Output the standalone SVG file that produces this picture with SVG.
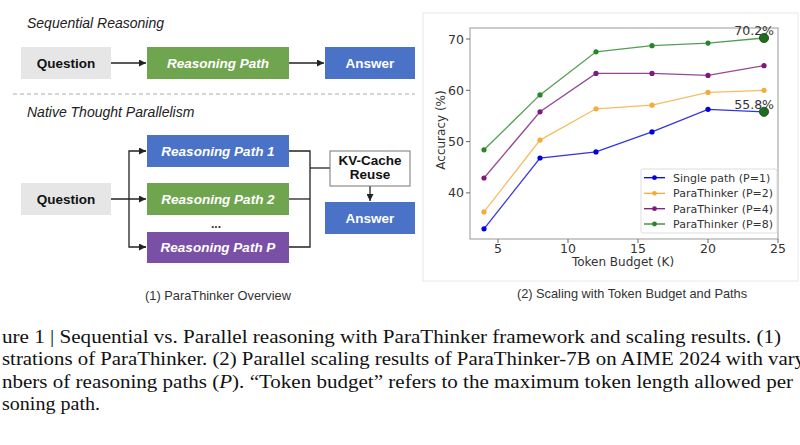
<svg xmlns="http://www.w3.org/2000/svg" width="800" height="445" viewBox="0 0 800 445">
<defs>
<marker id="ah" viewBox="0 0 10 10" refX="10" refY="5" markerWidth="7" markerHeight="7" markerUnits="userSpaceOnUse" orient="auto"><path d="M0,0 L10,5 L0,10 z" fill="#222"/></marker>
<style>
.box{stroke:none}
.lbl{font-family:"Liberation Sans",Arial,sans-serif;font-weight:bold;font-size:13.5px;text-anchor:middle}
.wi{fill:#fff;font-style:italic}
.head{font-family:"Liberation Sans",Arial,sans-serif;font-style:italic;font-size:14px;fill:#222}
.conn{stroke:#222;stroke-width:1.3;fill:none}
.mpl{font-family:"DejaVu Sans",Verdana,sans-serif;fill:#333}
.cap{font-family:"Liberation Serif","Times New Roman",serif;font-size:19.5px;fill:#111}
.sub{font-family:"Liberation Sans",Arial,sans-serif;font-size:12.8px;fill:#333;text-anchor:middle}
</style>
</defs>
<rect width="800" height="445" fill="#fff"/>

<text class="head" x="27" y="28">Sequential Reasoning</text>
<line x1="13" y1="94" x2="415" y2="94" stroke="#aaa" stroke-width="1" stroke-dasharray="4,3"/>
<text class="head" x="27" y="117">Native Thought Parallelism</text>

<g id="connectors">
<line class="conn" x1="111" y1="63" x2="146" y2="63" marker-end="url(#ah)"/>
<line class="conn" x1="289" y1="63" x2="324" y2="63" marker-end="url(#ah)"/>
<line class="conn" x1="111" y1="199" x2="146" y2="199" marker-end="url(#ah)"/>
<polyline class="conn" points="146,151 129,151 129,247 146,247"/>
<line class="conn" x1="140" y1="151" x2="146" y2="151" marker-end="url(#ah)"/>
<line class="conn" x1="140" y1="247" x2="146" y2="247" marker-end="url(#ah)"/>
<polyline class="conn" points="289,151 310,151 310,247 289,247"/>
<line class="conn" x1="289" y1="199" x2="310" y2="199"/>
<line class="conn" x1="310" y1="168" x2="330" y2="168"/>
<line class="conn" x1="370" y1="186" x2="370" y2="201" marker-end="url(#ah)"/>
</g>

<g id="seq-question"><rect class="box" x="21" y="47" width="90" height="32" fill="#e6e6e6"/><text class="lbl" x="66" y="68" fill="#111">Question</text></g>
<g id="seq-path"><rect class="box" x="147" y="47" width="142" height="32" fill="#6fa54f"/><text class="lbl wi" x="218" y="68">Reasoning Path</text></g>
<g id="seq-answer"><rect class="box" x="325" y="47" width="90" height="32" fill="#4a72c6"/><text class="lbl" x="370" y="68" fill="#fff">Answer</text></g>

<g id="par-question"><rect class="box" x="21" y="183" width="90" height="32" fill="#e6e6e6"/><text class="lbl" x="66" y="204" fill="#111">Question</text></g>
<g id="path1"><rect class="box" x="147" y="135" width="142" height="32" fill="#4a72c6"/><text class="lbl wi" x="218" y="156">Reasoning Path 1</text></g>
<g id="path2"><rect class="box" x="147" y="183" width="142" height="32" fill="#6fa54f"/><text class="lbl wi" x="218" y="204">Reasoning Path 2</text></g>
<text x="216" y="228" font-family="Liberation Sans,Arial,sans-serif" font-size="12" font-weight="bold" text-anchor="middle" fill="#333">...</text>
<g id="pathP"><rect class="box" x="147" y="232" width="142" height="31" fill="#7a4fa6"/><text class="lbl wi" x="218" y="252">Reasoning Path P</text></g>
<g id="kv"><rect x="330" y="151" width="80" height="35" fill="#fff" stroke="#777" stroke-width="1"/><text class="lbl" x="370" y="165" font-size="11.5" fill="#111">KV-Cache</text><text class="lbl" x="370" y="179" font-size="11.5" fill="#111">Reuse</text></g>
<g id="par-answer"><rect class="box" x="325" y="202" width="90" height="32" fill="#4a72c6"/><text class="lbl" x="370" y="223" fill="#fff">Answer</text></g>

<text class="sub" x="218" y="300">(1) ParaThinker Overview</text>

<g id="chart">
<rect x="423" y="13" width="375" height="268" fill="#fff" stroke="#e8e8e8"/>
<rect x="470" y="28" width="308" height="211" fill="none" stroke="#999" stroke-width="1"/>
<g stroke="#666" stroke-width="1">
<line x1="466" y1="39" x2="470" y2="39"/><line x1="466" y1="90.3" x2="470" y2="90.3"/><line x1="466" y1="141.6" x2="470" y2="141.6"/><line x1="466" y1="192.9" x2="470" y2="192.9"/>
<line x1="498" y1="239" x2="498" y2="243"/><line x1="568" y1="239" x2="568" y2="243"/><line x1="638" y1="239" x2="638" y2="243"/><line x1="708" y1="239" x2="708" y2="243"/><line x1="778" y1="239" x2="778" y2="243"/>
</g>
<g class="mpl" font-size="12.5" text-anchor="end">
<text x="464" y="43.5">70</text><text x="464" y="94.8">60</text><text x="464" y="146">50</text><text x="464" y="197.4">40</text>
</g>
<g class="mpl" font-size="12.5" text-anchor="middle">
<text x="498" y="253">5</text><text x="568" y="253">10</text><text x="638" y="253">15</text><text x="708" y="253">20</text><text x="778" y="253">25</text>
</g>
<g class="mpl" font-size="12" text-anchor="middle">
<text x="623" y="266">Token Budget (K)</text>
<text transform="translate(445,130) rotate(-90)">Accuracy (%)</text>
</g>
<g fill="none" stroke-width="1.3" stroke-opacity="0.8">
<polyline stroke="#0000dd" points="484,228.8 540,158 596,151.9 652,131.9 708,109.3 764,111.8"/>
<polyline stroke="#f2ac3a" points="484,211.9 540,140.1 596,108.8 652,105.2 708,92.4 764,90.3"/>
<polyline stroke="#7b1a7b" points="484,178 540,111.8 596,73.4 652,73.4 708,75.4 764,65.7"/>
<polyline stroke="#2a842a" points="484,149.8 540,94.9 596,51.8 652,45.7 708,43.1 764,38"/>
</g>
<g fill="#0000dd"><circle cx="484" cy="228.8" r="2.6"/><circle cx="540" cy="158" r="2.6"/><circle cx="596" cy="151.9" r="2.6"/><circle cx="652" cy="131.9" r="2.6"/><circle cx="708" cy="109.3" r="2.6"/></g>
<g fill="#f2ac3a"><circle cx="484" cy="211.9" r="2.6"/><circle cx="540" cy="140.1" r="2.6"/><circle cx="596" cy="108.8" r="2.6"/><circle cx="652" cy="105.2" r="2.6"/><circle cx="708" cy="92.4" r="2.6"/><circle cx="764" cy="90.3" r="2.6"/></g>
<g fill="#7b1a7b"><circle cx="484" cy="178" r="2.6"/><circle cx="540" cy="111.8" r="2.6"/><circle cx="596" cy="73.4" r="2.6"/><circle cx="652" cy="73.4" r="2.6"/><circle cx="708" cy="75.4" r="2.6"/><circle cx="764" cy="65.7" r="2.6"/></g>
<g fill="#2a842a"><circle cx="484" cy="149.8" r="2.6"/><circle cx="540" cy="94.9" r="2.6"/><circle cx="596" cy="51.8" r="2.6"/><circle cx="652" cy="45.7" r="2.6"/><circle cx="708" cy="43.1" r="2.6"/></g>
<g fill="#1f6e1f" stroke="#124a12" stroke-width="0.8"><circle cx="764" cy="38" r="4.6"/><circle cx="764" cy="111.8" r="4.6"/></g>
<g class="mpl" font-size="12.5" text-anchor="end"><text x="774" y="35">70.2%</text><text x="774" y="108.5">55.8%</text></g>
<g id="legend">
<rect x="641" y="169" width="136" height="64" rx="2" fill="#fff" stroke="#ddd"/>
<g stroke-width="1.3"><line x1="644" y1="177.7" x2="665" y2="177.7" stroke="#0000dd"/><line x1="644" y1="193.3" x2="665" y2="193.3" stroke="#f2ac3a"/><line x1="644" y1="208.7" x2="665" y2="208.7" stroke="#7b1a7b"/><line x1="644" y1="224" x2="665" y2="224" stroke="#2a842a"/></g>
<circle cx="654.5" cy="177.7" r="2.4" fill="#0000dd"/><circle cx="654.5" cy="193.3" r="2.4" fill="#f2ac3a"/><circle cx="654.5" cy="208.7" r="2.4" fill="#7b1a7b"/><circle cx="654.5" cy="224" r="2.4" fill="#2a842a"/>
<g class="mpl" font-size="11"><text x="673" y="181.6">Single path (P=1)</text><text x="673" y="197.2">ParaThinker (P=2)</text><text x="673" y="212.6">ParaThinker (P=4)</text><text x="673" y="227.9">ParaThinker (P=8)</text></g>
</g>
</g>
<text class="sub" x="632" y="298" font-size="13.8">(2) Scaling with Token Budget and Paths</text>

<g class="cap">
<text x="2" y="343" textLength="779" lengthAdjust="spacingAndGlyphs">ure 1 | Sequential vs. Parallel reasoning with ParaThinker framework and scaling results. (1)</text>
<text x="2" y="365" textLength="803" lengthAdjust="spacingAndGlyphs">strations of ParaThinker. (2) Parallel scaling results of ParaThinker-7B on AIME 2024 with vary</text>
<text x="2" y="388" textLength="791" lengthAdjust="spacingAndGlyphs">nbers of reasoning paths (<tspan font-style="italic">P</tspan>). “Token budget” refers to the maximum token length allowed per</text>
<text x="2" y="410" textLength="98" lengthAdjust="spacingAndGlyphs">soning path.</text>
</g>
</svg>
